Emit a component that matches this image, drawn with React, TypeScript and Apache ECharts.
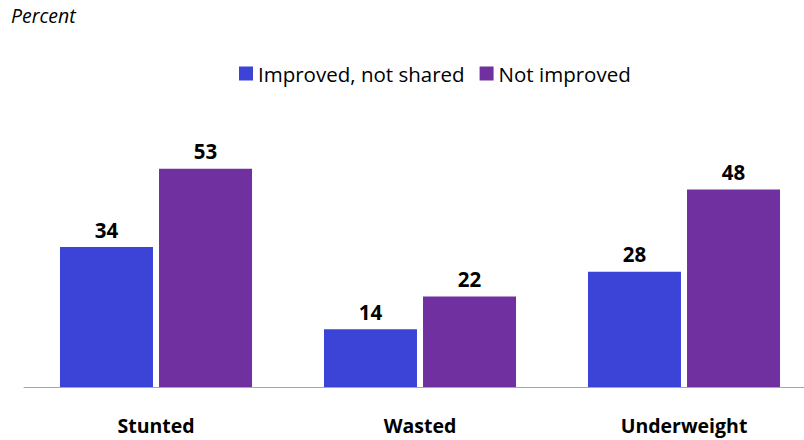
import React, { useEffect, useRef } from "react";
import * as echarts from "echarts";

const categories = ["Stunted", "Wasted", "Underweight"];
const seriesNames = ["Improved, not shared", "Not improved"];
const improvedNotShared = [34, 14, 28];
const notImproved = [53, 22, 48];
const colors = ["#3b44d6", "#7030a0"];
const FONT = "'Open Sans', sans-serif";

export default function App() {
  const ref = useRef<HTMLDivElement>(null);
  useEffect(() => {
    if (!ref.current) return;
    const chart = echarts.init(ref.current, null, { renderer: "svg" });
    const label = {
      show: true,
      position: "top",
      distance: 7,
      fontSize: 20.5,
      fontWeight: "bold",
      color: "#000",
      fontFamily: FONT,
    };
    chart.setOption({
      animation: false,
      backgroundColor: "#fff",
      textStyle: { fontFamily: FONT },
      graphic: [
        {
          type: "text",
          left: 11,
          top: 5,
          style: { text: "Percent", fontSize: 19.5, fontStyle: "italic", fill: "#000", fontFamily: FONT },
        },
      ],
      legend: {
        left: 234,
        top: 58,
        itemWidth: 14,
        itemHeight: 14,
        itemGap: 15,
        icon: "rect",
        textStyle: { fontSize: 20.5, color: "#000", fontFamily: FONT },
        data: seriesNames,
      },
      grid: { left: 24, width: 792, top: 140, bottom: 53, containLabel: false, outerBoundsMode: "none" },
      xAxis: {
        type: "category",
        data: categories,
        axisLine: { lineStyle: { color: "#a6a6a6", width: 1 } },
        axisTick: { show: false },
        axisLabel: { fontSize: 19.5, fontWeight: "bold", color: "#000", margin: 28, fontFamily: FONT },
      },
      yAxis: {
        type: "value",
        min: 0,
        max: 60,
        show: false,
        splitLine: { show: false },
      },
      series: [
        {
          name: seriesNames[0],
          type: "bar",
          data: improvedNotShared,
          barWidth: 93,
          barGap: "6.5%",
          itemStyle: { color: colors[0] },
          label,
        },
        {
          name: seriesNames[1],
          type: "bar",
          data: notImproved,
          barWidth: 93,
          barGap: "6.5%",
          itemStyle: { color: colors[1] },
          label,
        },
      ],
    });
    return () => chart.dispose();
  }, []);
  return (
    <div
      ref={ref}
      style={{ position: "fixed", left: 0, top: 0, width: 804, height: 440 }}
    />
  );
}
